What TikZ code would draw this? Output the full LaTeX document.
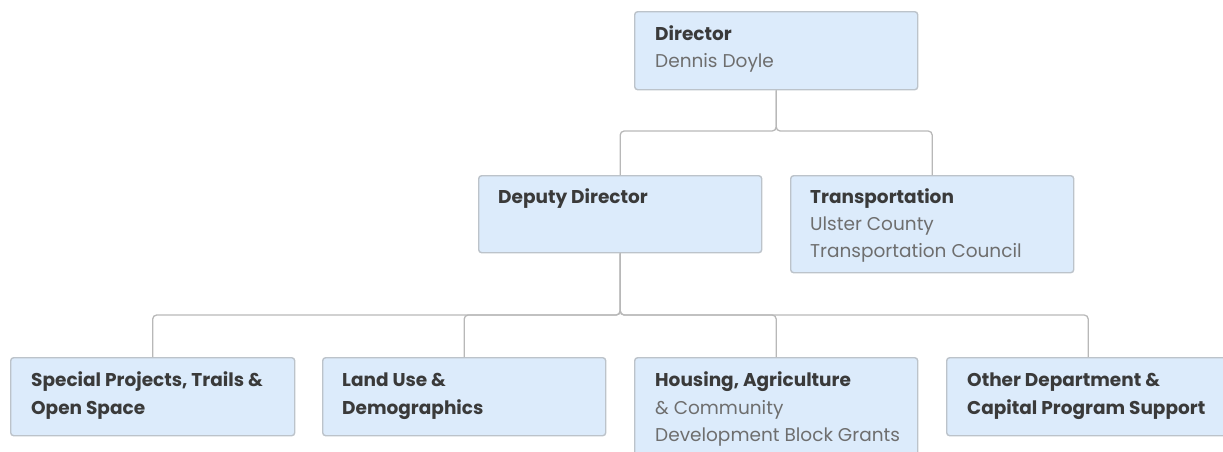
\documentclass[tikz,border=0pt]{standalone}
\usepackage{fontspec}
\setmainfont{Poppins}
\usetikzlibrary{calc}
\definecolor{boxfill}{HTML}{DCEBFB}
\definecolor{boxline}{HTML}{BCC3CA}
\definecolor{connline}{HTML}{B8B8B8}
\definecolor{titletext}{HTML}{3A3A3A}
\definecolor{subtext}{HTML}{6E6E6E}
\tikzset{
  unitbox/.style={draw=boxline, line width=1.4pt, fill=boxfill, rounded corners=3pt,
    anchor=north west, inner sep=0pt, minimum width=283pt},
  conn/.style={draw=connline, line width=1.3pt, rounded corners=4pt},
  title/.style={anchor=base west, inner sep=0pt, font=\fontsize{18.5}{20}\selectfont\bfseries, text=titletext},
  sub/.style={anchor=base west, inner sep=0pt, font=\fontsize{18.5}{20}\selectfont, text=subtext},
}
\begin{document}
\begin{tikzpicture}[x=1pt, y=-1pt]
\useasboundingbox (0,0) rectangle (1223,451);
\clip (0,0) rectangle (1223,451);

% boxes
\node[unitbox, minimum height=78pt] (dir) at (634,11) {};
\node[unitbox, minimum height=77pt] (dep) at (478,175) {};
\node[unitbox, minimum height=97pt] (trn) at (790,175) {};
\node[unitbox, minimum height=78pt, minimum width=284pt] (spt) at (10,357) {};
\node[unitbox, minimum height=78pt] (lnd) at (322,357) {};
\node[unitbox, minimum height=110pt] (hsg) at (634,357) {};
\node[unitbox, minimum height=78pt] (oth) at (946,357) {};

% texts
\node[title] (dirT) at ($(dir.north west)+(21,29)$) {Director};
\node[sub]   (dirS) at ($(dir.north west)+(21,56)$) {Dennis Doyle};
\node[title] (depT) at ($(dep.north west)+(20,28)$) {Deputy Director};
\node[title] (trnT) at ($(trn.north west)+(20,28)$) {Transportation};
\node[sub]   (trnS1) at ($(trn.north west)+(20,55)$) {Ulster County};
\node[sub]   (trnS2) at ($(trn.north west)+(20,82)$) {Transportation Council};
\node[title] (sptT1) at ($(spt.north west)+(21,29)$) {Special Projects, Trails \&};
\node[title] (sptT2) at ($(spt.north west)+(21,57)$) {Open Space};
\node[title] (lndT1) at ($(lnd.north west)+(20,29)$) {Land Use \&};
\node[title] (lndT2) at ($(lnd.north west)+(20,57)$) {Demographics};
\node[title] (hsgT) at ($(hsg.north west)+(21,29)$) {Housing, Agriculture};
\node[sub]   (hsgS1) at ($(hsg.north west)+(21,57)$) {\& Community};
\node[sub]   (hsgS2) at ($(hsg.north west)+(21,84)$) {Development Block Grants};
\node[title] (othT1) at ($(oth.north west)+(21,29)$) {Other Department \&};
\node[title] (othT2) at ($(oth.north west)+(21,57)$) {Capital Program Support};

% connectors
\coordinate (busA) at (0,131);
\coordinate (busB) at (0,315);
\draw[conn] (dir.south) -- (dir.south |- busA) -| (dep.north);
\draw[conn] (dir.south) -- (dir.south |- busA) -| (trn.north);
\draw[conn] (dep.south) -- (dep.south |- busB) -| (spt.north);
\draw[conn] (dep.south) -- (dep.south |- busB) -| (lnd.north);
\draw[conn] (dep.south) -- (dep.south |- busB) -| (hsg.north);
\draw[conn] (dep.south) -- (dep.south |- busB) -| (oth.north);
\end{tikzpicture}
\end{document}
